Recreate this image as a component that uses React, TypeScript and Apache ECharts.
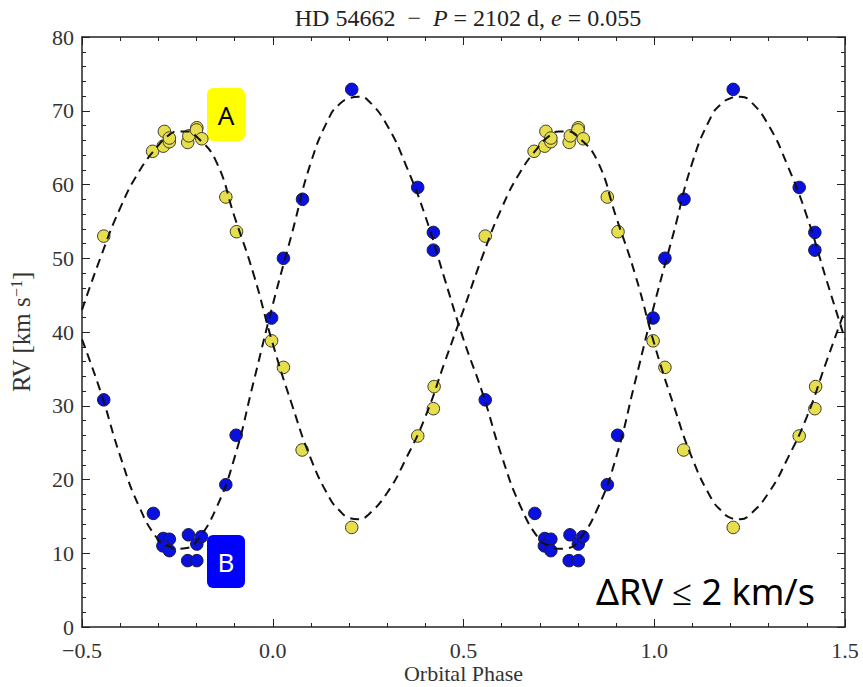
import React, { useEffect, useRef } from 'react';
import * as echarts from 'echarts';

// Model curves, one orbital period (phase -0.5 .. 0.5)
const curvePhase = [-0.5, -0.45, -0.4, -0.35, -0.3, -0.275, -0.25, -0.225, -0.2, -0.15, -0.1, -0.05, 0.0, 0.05, 0.1, 0.15, 0.175, 0.2, 0.225, 0.25, 0.3, 0.35, 0.4, 0.45, 0.5];
const curveA = [43.0, 50.3, 56.8, 61.8, 65.3, 66.6, 67.2, 67.2, 66.5, 63.3, 55.6, 47.8, 38.4, 30.2, 22.8, 17.4, 15.8, 14.8, 14.6, 15.2, 18.2, 22.9, 28.5, 35.8, 43.0];
const curveB = [39.0, 31.7, 23.2, 16.3, 11.8, 11.0, 10.6, 10.7, 11.6, 15.9, 23.0, 33.3, 43.7, 53.3, 63.0, 69.3, 70.9, 71.7, 71.9, 71.4, 68.0, 62.5, 55.7, 47.3, 39.0];

// Observations (star A, yellow), phase-folded
const phaseA = [-0.443, -0.315, -0.287, -0.284, -0.271, -0.271, -0.223, -0.22, -0.199, -0.2, -0.186, -0.123, -0.095, -0.003, 0.028, 0.077, 0.207, 0.38, 0.421, 0.423];
const rvA = [53.0, 64.5, 65.2, 67.2, 65.8, 66.3, 65.7, 66.6, 67.7, 67.4, 66.2, 58.3, 53.6, 38.8, 35.2, 24.0, 13.5, 25.9, 29.6, 32.6];

// Observations (star B, blue), phase-folded
const phaseB = [-0.443, -0.313, -0.287, -0.271, -0.288, -0.271, -0.221, -0.199, -0.187, -0.223, -0.199, -0.123, -0.096, -0.003, 0.028, 0.078, 0.207, 0.38, 0.421, 0.421];
const rvB = [30.8, 15.4, 12.0, 11.9, 11.0, 10.35, 12.5, 11.25, 12.25, 9.0, 9.0, 19.3, 26.0, 41.9, 50.0, 58.0, 72.9, 59.6, 53.5, 51.1];

// The folded data are drawn over two cycles
const cycles = [0, 1];

const titleText = '{n|HD 54662  −  }{i|P}{n| = 2102 d, }{i|e}{n| = 0.055}';
const xName = 'Orbital Phase';
const yName = '{n|RV [km s}{s|−1}{n|]}';

function foldCurve(vals: number[]) {
  const out: number[][] = [];
  cycles.forEach((c, ci) => {
    curvePhase.forEach((p, i) => {
      if (ci > 0 && i === 0) return;
      out.push([p + c, vals[i]]);
    });
  });
  return out;
}
function foldPoints(ph: number[], rv: number[]) {
  const out: number[][] = [];
  cycles.forEach((c) => ph.forEach((p, i) => out.push([p + c, rv[i]])));
  return out;
}

const serif = 'Liberation Serif';

export default function App() {
  const ref = useRef<HTMLDivElement>(null);
  useEffect(() => {
    if (!ref.current) return;
    const chart = echarts.init(ref.current, null, { renderer: 'svg' });
    const fmtX = (v: number) => (v < 0 ? '−' : '') + Math.abs(v).toFixed(1);
    const tickCommon = { show: true, inside: true, length: 8, lineStyle: { color: '#222', width: 1 } };
    const minorCommon = { show: true, splitNumber: 5, length: 4, lineStyle: { color: '#222', width: 1 } };
    const axisLine = { show: true, onZero: false, lineStyle: { color: '#222', width: 1.5 } };
    const option: any = {
      animation: false,
      backgroundColor: '#fff',
      title: {
        text: titleText,
        left: 463,
        top: 1,
        textAlign: 'center',
        textStyle: {
          fontWeight: 'normal',
          rich: {
            n: { fontFamily: serif, fontSize: 24, color: '#222', fontWeight: 'normal' },
            i: { fontFamily: serif, fontSize: 24, color: '#222', fontStyle: 'italic', fontWeight: 'normal' },
          },
        },
      },
      grid: { left: 82, right: 18, top: 37, bottom: 60, containLabel: false, outerBoundsMode: 'none' },
      xAxis: [
        {
          type: 'value', min: -0.5, max: 1.5, interval: 0.5,
          name: xName, nameLocation: 'middle', nameGap: 35, nameMoveOverlap: false,
          nameTextStyle: { fontFamily: serif, fontSize: 22, color: '#333' },
          axisLine, axisTick: tickCommon, minorTick: minorCommon,
          splitLine: { show: false },
          axisLabel: { formatter: fmtX, fontFamily: serif, fontSize: 22, color: '#333', margin: 12 },
        },
        {
          type: 'value', min: -0.5, max: 1.5, interval: 0.5, position: 'top',
          axisLine, axisTick: tickCommon, minorTick: minorCommon,
          splitLine: { show: false }, axisLabel: { show: false },
        },
      ],
      yAxis: [
        {
          type: 'value', min: 0, max: 80, interval: 10,
          name: yName, nameLocation: 'middle', nameGap: 48, nameRotate: 90, nameMoveOverlap: false,
          nameTextStyle: {
            rich: {
              n: { fontFamily: serif, fontSize: 25, color: '#333' },
              s: { fontFamily: serif, fontSize: 16, color: '#333', verticalAlign: 'top', padding: [0, 0, 10, 0] },
            },
          },
          axisLine, axisTick: tickCommon, minorTick: minorCommon,
          splitLine: { show: false },
          axisLabel: { fontFamily: serif, fontSize: 22, color: '#333', margin: 8, padding: [0, 0, 6, 0] },
        },
        {
          type: 'value', min: 0, max: 80, interval: 10, position: 'right',
          axisLine, axisTick: tickCommon, minorTick: minorCommon,
          splitLine: { show: false }, axisLabel: { show: false },
        },
      ],
      series: [
        {
          type: 'scatter', name: 'A', data: foldPoints(phaseA, rvA), symbolSize: 12.5, z: 2,
          itemStyle: { color: '#e6de4c', borderColor: '#3a3a2a', borderWidth: 1, opacity: 1 },
        },
        {
          type: 'scatter', name: 'B', data: foldPoints(phaseB, rvB), symbolSize: 12.5, z: 2,
          itemStyle: { color: '#0a10e0', borderColor: '#1a1a40', borderWidth: 1, opacity: 1 },
        },
        {
          type: 'line', name: 'model A', data: foldCurve(curveA), smooth: true, showSymbol: false, symbol: 'none', z: 3,
          lineStyle: { color: '#111', width: 2, type: [9, 6] },
        },
        {
          type: 'line', name: 'model B', data: foldCurve(curveB), smooth: true, showSymbol: false, symbol: 'none', z: 3,
          lineStyle: { color: '#111', width: 2, type: [9, 6] },
        },
      ],
      graphic: [
        {
          type: 'group', left: 207, top: 88,
          children: [
            { type: 'rect', shape: { x: 0, y: 0, width: 38, height: 53, r: 6 }, style: { fill: '#ffff00' } },
            { type: 'text', x: 19, y: 27, style: { text: 'A', fontFamily: 'Noto Sans', fontSize: 26, fill: '#000', align: 'center', verticalAlign: 'middle' } },
          ],
        },
        {
          type: 'group', left: 207, top: 535,
          children: [
            { type: 'rect', shape: { x: 0, y: 0, width: 38, height: 53, r: 6 }, style: { fill: '#0000ff' } },
            { type: 'text', x: 19, y: 27, style: { text: 'B', fontFamily: 'Noto Sans', fontSize: 26, fill: '#fff', align: 'center', verticalAlign: 'middle' } },
          ],
        },
        {
          type: 'text', left: 596, top: 573,
          style: { text: 'ΔRV ≤ 2 km/s', fontFamily: 'Noto Sans', fontSize: 36, fill: '#000' },
        },
      ],
    };
    chart.setOption(option);
    return () => chart.dispose();
  }, []);
  return <div ref={ref} style={{ position: 'fixed', left: 0, top: 0, width: 863, height: 687 }} />;
}
